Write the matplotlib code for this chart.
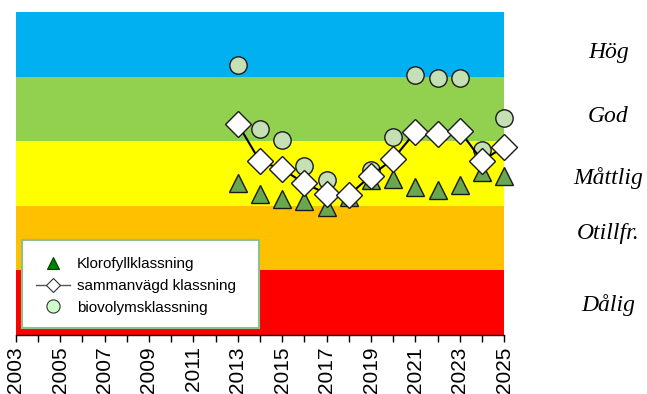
import numpy as np
import matplotlib
matplotlib.use("Agg")
import matplotlib.pyplot as plt
from matplotlib.lines import Line2D
from matplotlib.patches import Rectangle

years = list(range(2013, 2026))
klorofyll = [2.36, 2.18, 2.10, 2.07, 1.99, 2.14, 2.40, 2.41, 2.29, 2.24, 2.33, 2.53, 2.47]
sammanvagd = [3.27, 2.69, 2.57, 2.35, 2.19, 2.17, 2.47, 2.73, 3.15, 3.11, 3.16, 2.70, 2.92]
biovolym = [4.19, 3.19, 3.02, 2.62, 2.40, np.nan, 2.55, 3.07, 4.03, 3.98, 3.98, 2.87, 3.36]

class_names = ["Dålig", "Otillfr.", "Måttlig", "God", "Hög"]
class_colors = ["#FF0000", "#FFC000", "#FFFF00", "#92D050", "#00B0F0"]
class_label_y = [0.47, 1.57, 2.43, 3.38, 4.38]

fig = plt.figure(figsize=(6.47, 3.94), dpi=100)
ax = fig.add_axes([0.0243, 0.1497, 0.7552, 0.8190])

for i, c in enumerate(class_colors):
    ax.axhspan(i, i + 1, color=c, lw=0, zorder=0)

ax.plot(years, biovolym, ls="none", marker="o", ms=12.5, mfc="#C5E0B4",
        mec="#1a1a1a", mew=1.0, zorder=3, clip_on=False)
ax.plot(years, klorofyll, ls="none", marker="^", ms=12.5, mfc="#6AA84F",
        mec="#1a1a1a", mew=1.0, zorder=4, clip_on=False)
ax.plot(years, sammanvagd, color="black", lw=1.5, marker="D", ms=13,
        mfc="white", mec="#1a1a1a", mew=1.0, zorder=5, clip_on=False)

ax.set_xlim(2003, 2025)
ax.set_ylim(0, 5)
ax.set_yticks([])
ax.set_xticks(range(2003, 2026, 2))
ax.set_xticks(range(2003, 2026), minor=True)
ax.tick_params(axis="x", which="both", direction="out", length=5, width=1, color="black")
ax.tick_params(axis="x", which="major", labelrotation=90, pad=3)
for lab in ax.get_xticklabels():
    lab.set_family(["Liberation Sans Narrow", "Liberation Sans"])
    lab.set_fontsize(15)
for s in ["left", "right", "top"]:
    ax.spines[s].set_visible(False)
ax.spines["bottom"].set_linewidth(1)

# class labels to the right
trans = matplotlib.transforms.blended_transform_factory(fig.transFigure, ax.transData)
for name, y in zip(class_names, class_label_y):
    ax.text(0.94, y, name, transform=trans, ha="center", va="center",
            family="Liberation Serif", style="italic", fontsize=17, clip_on=False)

# legend box
box = Rectangle((21.7 / 647, 1 - 328 / 394), (259 - 21.7) / 647, (328 - 240) / 394,
                transform=fig.transFigure, facecolor="white", edgecolor="#8CC08C",
                lw=1.5, zorder=6, clip_on=False)
ax.add_patch(box)

handles = [
    Line2D([], [], ls="none", marker="^", ms=8, mfc="#008000", mec="#004000", mew=0.8),
    Line2D([], [], color="#555555", lw=1, marker="D", ms=7, mfc="white", mec="#333333", mew=0.8),
    Line2D([], [], ls="none", marker="o", ms=9.5, mfc="#CCFFCC", mec="#333333", mew=0.8),
]
labels = ["Klorofyllklassning", "sammanvägd klassning", "biovolymsklassning"]
leg = ax.legend(handles, labels, loc="center left", frameon=False,
                bbox_to_anchor=(36 / 647, 1 - 286 / 394), bbox_transform=fig.transFigure,
                borderaxespad=0, borderpad=0, handlelength=2.2, handletextpad=0.5,
                labelspacing=0.5, prop={"family": "Liberation Sans", "size": 11})
leg.set_zorder(7)

fig.savefig("out.png", dpi=100)
